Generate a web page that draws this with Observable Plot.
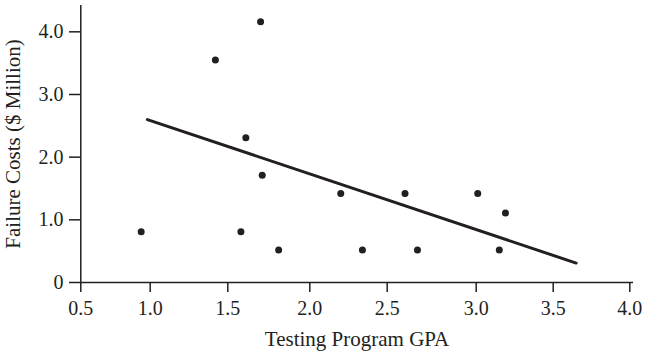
<!DOCTYPE html>
<html>
<head>
<meta charset="utf-8">
<script src="https://cdn.jsdelivr.net/npm/d3@7"></script>
<script src="https://cdn.jsdelivr.net/npm/@observablehq/plot@0.6"></script>
<style>
  html, body { margin: 0; padding: 0; background: #fff; }
</style>
</head>
<body>
<div id="chart"></div>
<script>
// Data
const gpa   = [0.935, 1.42, 1.70, 1.61, 1.71, 1.58, 1.81, 2.20, 2.60, 3.01, 3.19, 2.34, 2.67, 3.15];
const costs = [0.81, 3.55, 4.16, 2.31, 1.71, 0.81, 0.52, 1.42, 1.42, 1.42, 1.11, 0.52, 0.52, 0.52];
const fitX  = [0.98, 3.65];
const fitY  = [2.60, 0.31];
const xTicks = [0.5, 1.0, 1.5, 2.0, 2.5, 3.0, 3.5, 4.0];
const yTicks = [0, 1, 2, 3, 4];

const points = gpa.map((x, i) => ({x, y: costs[i]}));
const fit = fitX.map((x, i) => ({x, y: fitY[i]}));
const ink = "#231f20";

// The reference's x axis is drawn with slightly uneven tick spacing;
// a piecewise linear scale reproduces it.
const xRange = [80.3, 149.7, 227.3, 309.3, 386.7, 475.7, 552.7, 629.3];

const chart = Plot.plot({
  width: 645,
  height: 354,
  marginLeft: 80,
  marginRight: 12,
  marginTop: 5,
  marginBottom: 72,
  style: {fontFamily: "'Liberation Serif', 'Times New Roman', serif", fontSize: "20px", color: ink, background: "#fff"},
  x: {type: "linear", domain: xTicks, range: xRange},
  y: {domain: [0, 4.42]},
  marks: [
    Plot.axisX({ticks: xTicks, tickSize: 10, tickPadding: 8, tickFormat: d3.format(".1f"), stroke: ink, strokeWidth: 1.5, fill: ink,
      label: null}),
    Plot.axisX({ticks: [], tickSize: 0, label: "Testing Program GPA", labelAnchor: "center", labelArrow: "none", labelOffset: 63, fontSize: 21, fill: ink}),
    Plot.axisY({ticks: yTicks, tickSize: 11, tickPadding: 6, tickFormat: d => d === 0 ? "0" : d3.format(".1f")(d), stroke: ink, strokeWidth: 1.5, fill: ink,
      label: null}),
    Plot.axisY({ticks: [], tickSize: 0, label: "Failure Costs ($ Million)", labelAnchor: "center", labelArrow: "none", labelOffset: 75, fontSize: 21, fill: ink}),
    Plot.ruleY([0], {stroke: ink, strokeWidth: 1.5}),
    Plot.ruleX([0.5], {stroke: ink, strokeWidth: 1.5}),
    Plot.line(fit, {x: "x", y: "y", stroke: ink, strokeWidth: 3}),
    Plot.dot(points, {x: "x", y: "y", r: 3.5, fill: ink, stroke: "none"})
  ]
});
document.getElementById("chart").appendChild(chart);
</script>
</body>
</html>
